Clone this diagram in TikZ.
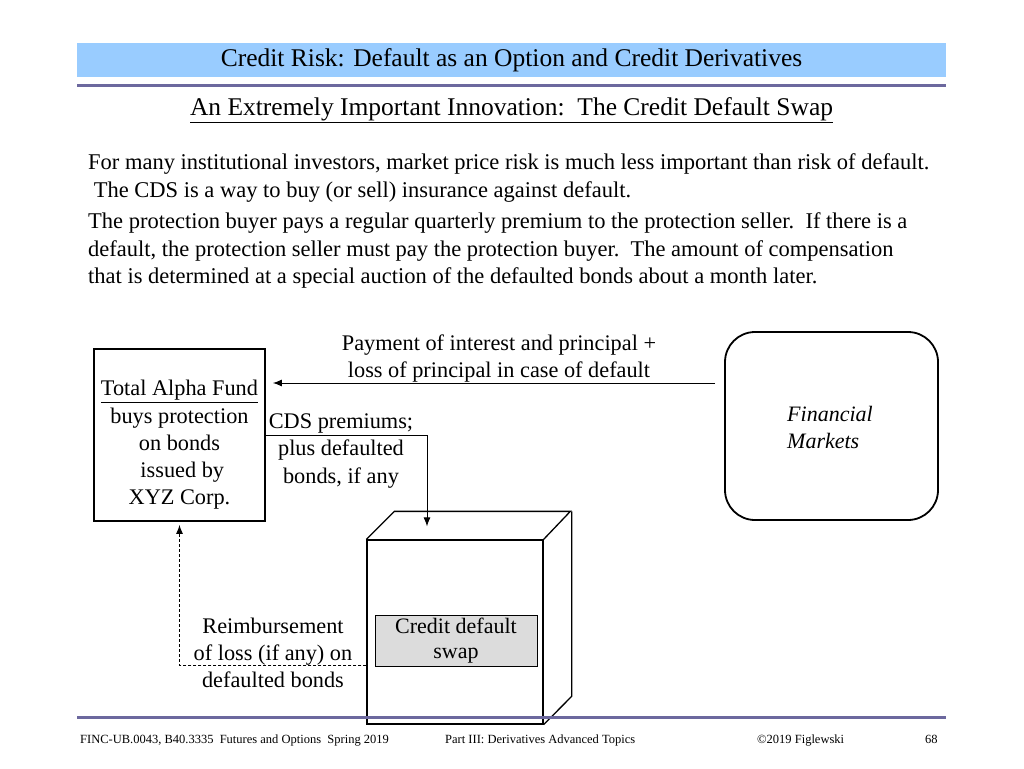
\documentclass[tikz,border=0pt]{standalone}
\usepackage{fontspec}
\setmainfont{Liberation Serif}
\usepackage{tikz}
\usetikzlibrary{shapes.geometric, arrows.meta, positioning}
\definecolor{barblue}{RGB}{153,204,255}
\definecolor{rulepurple}{RGB}{108,104,158}
\definecolor{swapgray}{RGB}{220,220,220}
\tikzstyle{titlebar} = [rectangle, fill=barblue, minimum width=869pt, minimum height=34pt, inner sep=0pt]
\tikzstyle{para} = [anchor=north west, align=left, inner sep=0pt, font=\fontsize{22.5}{27.5}\selectfont]
\tikzstyle{party} = [rectangle, draw=black, line width=1.8pt, minimum width=171pt, minimum height=172pt]
\tikzstyle{market} = [rectangle, rounded corners=30pt, draw=black, line width=1.8pt, minimum width=213pt, minimum height=188pt]
\tikzstyle{cube} = [rectangle, draw=black, line width=1.3pt, minimum width=176pt, minimum height=184pt]
\tikzstyle{swapbox} = [rectangle, draw=black, line width=0.9pt, fill=swapgray, minimum width=162pt, minimum height=51pt, inner sep=0pt, align=center, font=\fontsize{22}{25}\selectfont]
\tikzstyle{lbl} = [align=center, inner sep=0pt, font=\fontsize{22.3}{27.2}\selectfont]
\tikzstyle{foot} = [anchor=base west, inner sep=0pt, font=\fontsize{12.5}{14}\selectfont]
\tikzstyle{arrow} = [line width=0.9pt,->,>={Latex[length=9pt,width=7pt]}]
\tikzstyle{rule} = [line width=3pt, draw=rulepurple]
\begin{document}
\begin{tikzpicture}[x=1pt, y=-1pt]
        \useasboundingbox (0,0) rectangle (1024,768);
        % heading
        \node (bar) [titlebar] at (511.5,60) {\fontsize{25.5}{28}\selectfont Credit Risk: Default as an Option and Credit Derivatives};
        \draw [rule] (77,85) -- (946,85);
        \node (sub) [inner sep=0pt] at (511.5,110) {\fontsize{25.5}{29}\selectfont\underline{An Extremely Important Innovation:\ \ The Credit Default Swap}};
        \node (p1) [para] at (88,153.5) {For many institutional investors, market price risk is much less important than risk of default.\\
          \ The CDS is a way to buy (or sell) insurance against default.};
        \node (p2) [para] at (88,212.5) {The protection buyer pays a regular quarterly premium to the protection seller.\ \ If there is a\\
          default, the protection seller must pay the protection buyer.\ \ The amount of compensation\\
          that is determined at a special auction of the defaulted bonds about a month later.};
        % parties
        \node (fund) [party] at (179.5,435) {};
        \node (fundtxt) [lbl] at (179.5,445) {\underline{Total Alpha Fund}\\buys protection\\on bonds\\\ issued by\\XYZ Corp.};
        \node (mkt) [market] at (831.5,426) {};
        \node (mkttxt) [para, anchor=west, font=\itshape\fontsize{22}{27}\selectfont] at (787,427) {Financial\\Markets};
        \node (cds) [cube] at (455,632) {};
        \draw [line width=1.3pt] (cds.north west) -- ++(28,-28) -- ++(176,0) -- (cds.north east);
        \draw [line width=1.3pt] ([shift={(28,-28)}]cds.north east) -- ++(0,185) -- (cds.south east);
        \node (swap) [swapbox] at (456,641) {Credit default\\swap};
        % flows
        \coordinate (pay) at ([yshift=43pt]mkt.west);
        \draw [arrow, shorten <=9pt, shorten >=7pt] (pay) -- (pay -| fund.east);
        \node (paytxt) [lbl] at (499,358.5) {Payment of interest and principal +\\loss of principal in case of default};
        \draw [arrow, shorten >=13pt] (fund.east) -| ([xshift=-28pt]cds.north);
        \node (premtxt) [lbl] at (341,451) {CDS premiums;\\plus defaulted\\bonds, if any};
        \coordinate (reimb) at ([yshift=-33pt]cds.west);
        \draw [arrow, densely dashed, shorten >=3pt] (reimb) -| (fund.south);
        \node (reimbtxt) [lbl] at (273,653) {Reimbursement\\of loss (if any) on\\defaulted bonds};
        % footer
        \draw [rule] (77,717) -- (946,717);
        \node (f1) [foot] at (80,743) {FINC-UB.0043, B40.3335\ \ Futures and Options\ \ Spring 2019};
        \node (f2) [foot] at (445,743) {Part III: Derivatives Advanced Topics};
        \node (f3) [foot] at (757,743) {©2019 Figlewski};
        \node (f4) [foot] at (925,743) {68};
\end{tikzpicture}
\end{document}
